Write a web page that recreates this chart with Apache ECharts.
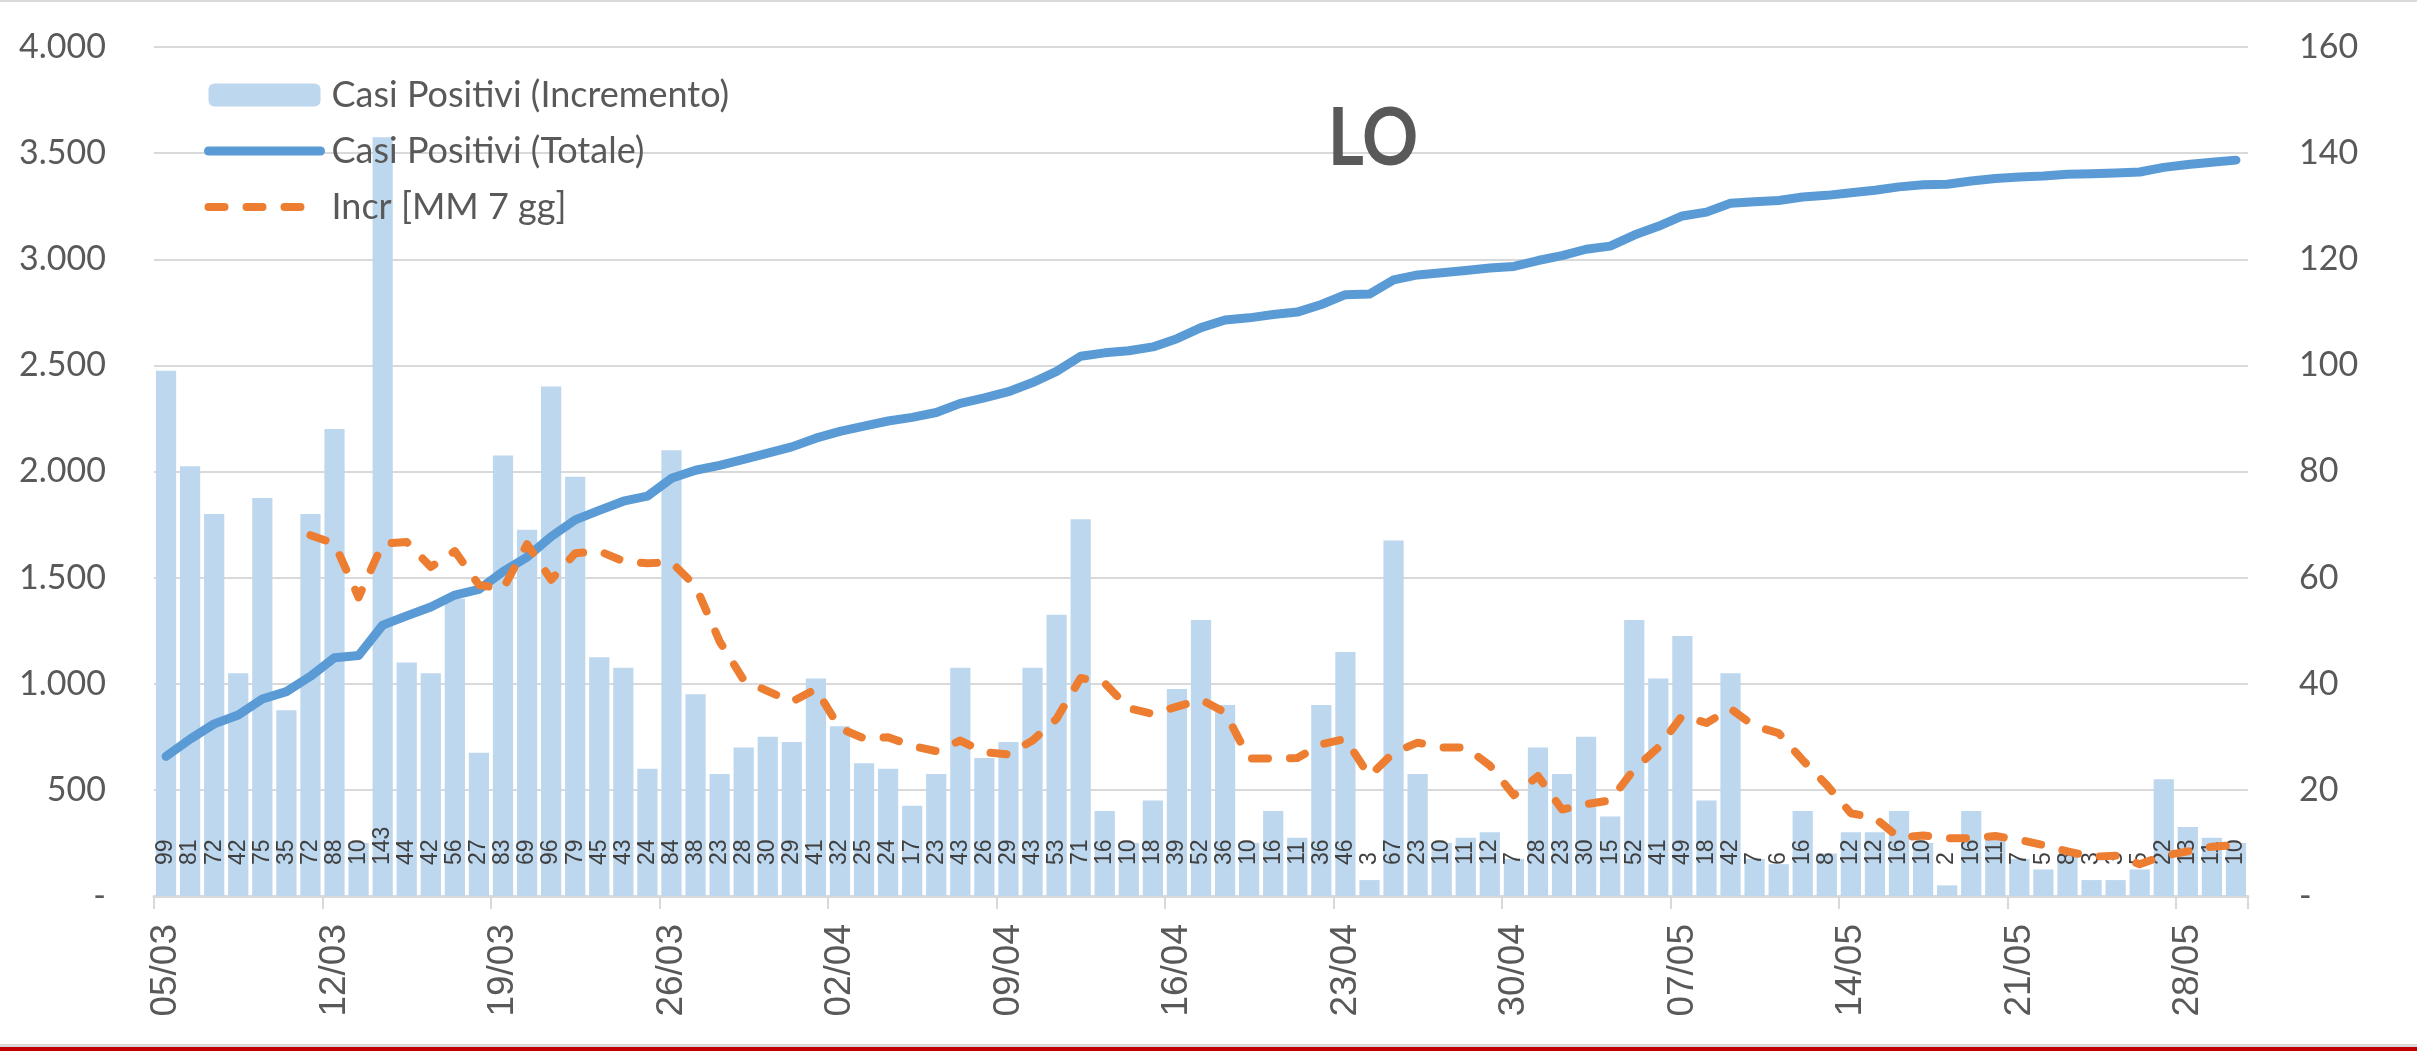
<!DOCTYPE html>
<html>
<head>
<meta charset="utf-8">
<title>LO</title>
<script src="https://cdn.jsdelivr.net/npm/echarts@6/dist/echarts.min.js"></script>
<style>
  html, body { margin: 0; padding: 0; background: #ffffff; }
  #chart { width: 2417px; height: 1051px; }
</style>
</head>
<body>
<div id="chart"></div>
<script>
// Daily dates, 05/03 – 30/05
const dates = [
  '05/03','06/03','07/03','08/03','09/03','10/03','11/03','12/03','13/03','14/03',
  '15/03','16/03','17/03','18/03','19/03','20/03','21/03','22/03','23/03','24/03',
  '25/03','26/03','27/03','28/03','29/03','30/03','31/03',
  '01/04','02/04','03/04','04/04','05/04','06/04','07/04','08/04','09/04','10/04',
  '11/04','12/04','13/04','14/04','15/04','16/04','17/04','18/04','19/04','20/04',
  '21/04','22/04','23/04','24/04','25/04','26/04','27/04','28/04','29/04','30/04',
  '01/05','02/05','03/05','04/05','05/05','06/05','07/05','08/05','09/05','10/05',
  '11/05','12/05','13/05','14/05','15/05','16/05','17/05','18/05','19/05','20/05',
  '21/05','22/05','23/05','24/05','25/05','26/05','27/05','28/05','29/05','30/05'
];

// Casi Positivi (Incremento) – new cases per day
const incremento = [
  99, 81, 72, 42, 75, 35, 72, 88, 10, 143,
  44, 42, 56, 27, 83, 69, 96, 79, 45, 43,
  24, 84, 38, 23, 28, 30, 29,
  41, 32, 25, 24, 17, 23, 43, 26, 29, 43,
  53, 71, 16, 10, 18, 39, 52, 36, 10, 16,
  11, 36, 46, 3, 67, 23, 10, 11, 12, 7,
  28, 23, 30, 15, 52, 41, 49, 18, 42, 7,
  6, 16, 8, 12, 12, 16, 10, 2, 16, 11,
  7, 5, 8, 3, 3, 5, 22, 13, 11, 10
];

// Casi Positivi (Totale) – cumulative cases
const totale = [
  658, 739, 811, 853, 928, 963, 1035, 1123, 1133, 1276,
  1320, 1362, 1418, 1445, 1528, 1597, 1693, 1772, 1817, 1860,
  1884, 1968, 2006, 2029, 2057, 2087, 2116,
  2157, 2189, 2214, 2238, 2255, 2278, 2321, 2347, 2376, 2419,
  2472, 2543, 2559, 2569, 2587, 2626, 2678, 2714, 2724, 2740,
  2751, 2787, 2833, 2836, 2903, 2926, 2936, 2947, 2959, 2966,
  2994, 3017, 3047, 3062, 3114, 3155, 3204, 3222, 3264, 3271,
  3277, 3293, 3301, 3313, 3325, 3341, 3351, 3353, 3369, 3380,
  3387, 3392, 3400, 3403, 3406, 3411, 3433, 3446, 3457, 3467
];

// Incr [MM 7 gg] – 7-day moving average of the daily increase
const media7 = [
  null, null, null, null, null, null, 68.0, 66.4, 56.3, 66.4,
  66.7, 62.0, 65.0, 58.6, 57.9, 66.3, 59.6, 64.6, 65.0, 63.1,
  62.7, 62.9, 58.4, 48.0, 40.7, 38.6, 36.6,
  39.0, 31.6, 29.7, 29.9, 28.3, 27.3, 29.3, 27.1, 26.7, 29.3,
  33.4, 41.1, 40.1, 35.4, 34.3, 35.7, 37.0, 34.6, 25.9, 25.9,
  26.0, 28.6, 29.6, 22.6, 27.0, 28.9, 28.0, 28.0, 24.6, 19.0,
  22.6, 16.3, 17.3, 18.0, 23.9, 28.0, 34.0, 32.6, 35.3, 32.0,
  30.7, 25.6, 20.9, 15.6, 14.7, 11.0, 11.4, 10.9, 10.9, 11.3,
  10.6, 9.6, 8.4, 7.4, 7.6, 6.0, 7.6, 8.4, 9.3, 9.6
];

const seriesNames = ['Casi Positivi (Incremento)', 'Casi Positivi (Totale)', 'Incr [MM 7 gg]'];
const titleText = 'LO';

const GRID = '#D9D9D9';
const TEXT = '#595959';

function thousands(v) {
  if (v === 0) return '-';
  return String(v).replace(/\B(?=(\d{3})+(?!\d))/g, '.');
}

const chart = echarts.init(document.getElementById('chart'), null, { renderer: 'canvas' });

chart.setOption({
  animation: false,
  backgroundColor: '#ffffff',
  grid: { left: 154, right: 169, top: 47, bottom: 155, containLabel: false },
  legend: {
    orient: 'vertical',
    left: 204,
    top: 77,
    padding: 0,
    itemWidth: 112,
    itemHeight: 23,
    itemGap: 20,
    lineStyle: { width: 9, cap: 'round' },
    data: [
      { name: seriesNames[0] },
      // line entries: plain stroke, no marker
      { name: seriesNames[1], itemStyle: { opacity: 0 }, lineStyle: { width: 9, cap: 'round' } },
      { name: seriesNames[2], itemStyle: { opacity: 0 }, lineStyle: { width: 8, cap: 'round' } }
    ],
    textStyle: { fontFamily: 'Lato', fontSize: 36, lineHeight: 36, color: TEXT, padding: [0, 0, 0, 6] }
  },
  graphic: [
    { type: 'rect', left: 0, top: 0, shape: { width: 2417, height: 2 }, style: { fill: GRID }, silent: true },
    { type: 'rect', left: 0, top: 1044, shape: { width: 2417, height: 3 }, style: { fill: GRID }, silent: true },
    { type: 'rect', left: 0, top: 1047, shape: { width: 2417, height: 4 }, style: { fill: '#C00000' }, silent: true },
    {
      type: 'text', x: 1373, y: 139, scaleX: 0.87, z: 10,
      style: {
        text: titleText, fill: TEXT, font: 'bold 80px Lato',
        textAlign: 'center', textVerticalAlign: 'middle'
      }
    }
  ],
  xAxis: {
    type: 'category',
    data: dates,
    boundaryGap: true,
    axisLine: { lineStyle: { color: GRID, width: 3 } },
    axisTick: { show: true, interval: 6, length: 13, lineStyle: { color: GRID, width: 2 } },
    axisLabel: {
      interval: 6, rotate: 90, margin: 28,
      fontFamily: 'Liberation Sans', fontSize: 37, color: TEXT
    },
    splitLine: { show: false }
  },
  yAxis: [
    {
      type: 'value', min: 0, max: 4000, interval: 500,
      axisLine: { show: false }, axisTick: { show: false },
      axisLabel: { formatter: thousands, margin: 48, fontFamily: 'Lato', fontSize: 34, color: TEXT },
      splitLine: { lineStyle: { color: GRID, width: 2 } }
    },
    {
      type: 'value', min: 0, max: 160, interval: 20,
      axisLine: { show: false }, axisTick: { show: false },
      axisLabel: {
        formatter: v => (v === 0 ? '-' : String(v)),
        margin: 51, fontFamily: 'Lato', fontSize: 34, color: TEXT
      },
      splitLine: { show: false }
    }
  ],
  series: [
    {
      name: seriesNames[0],
      type: 'bar',
      yAxisIndex: 1,
      data: incremento,
      barCategoryGap: '16%',
      itemStyle: { color: '#BDD7EE' },
      label: {
        show: true,
        position: 'insideBottom',
        rotate: 90,
        align: 'left',
        verticalAlign: 'middle',
        distance: 31,
        fontFamily: 'Liberation Sans',
        fontSize: 23,
        color: '#404040'
      }
    },
    {
      name: seriesNames[1],
      type: 'line',
      yAxisIndex: 0,
      data: totale,
      symbol: 'none',
      itemStyle: { color: '#5B9BD5' },
      lineStyle: { color: '#5B9BD5', width: 9, cap: 'round', join: 'round' }
    },
    {
      name: seriesNames[2],
      type: 'line',
      yAxisIndex: 1,
      data: media7,
      symbol: 'none',
      itemStyle: { color: '#ED7D31' },
      lineStyle: { color: '#ED7D31', width: 8, type: [16, 22], cap: 'round', join: 'round' }
    }
  ]
});
</script>
</body>
</html>
